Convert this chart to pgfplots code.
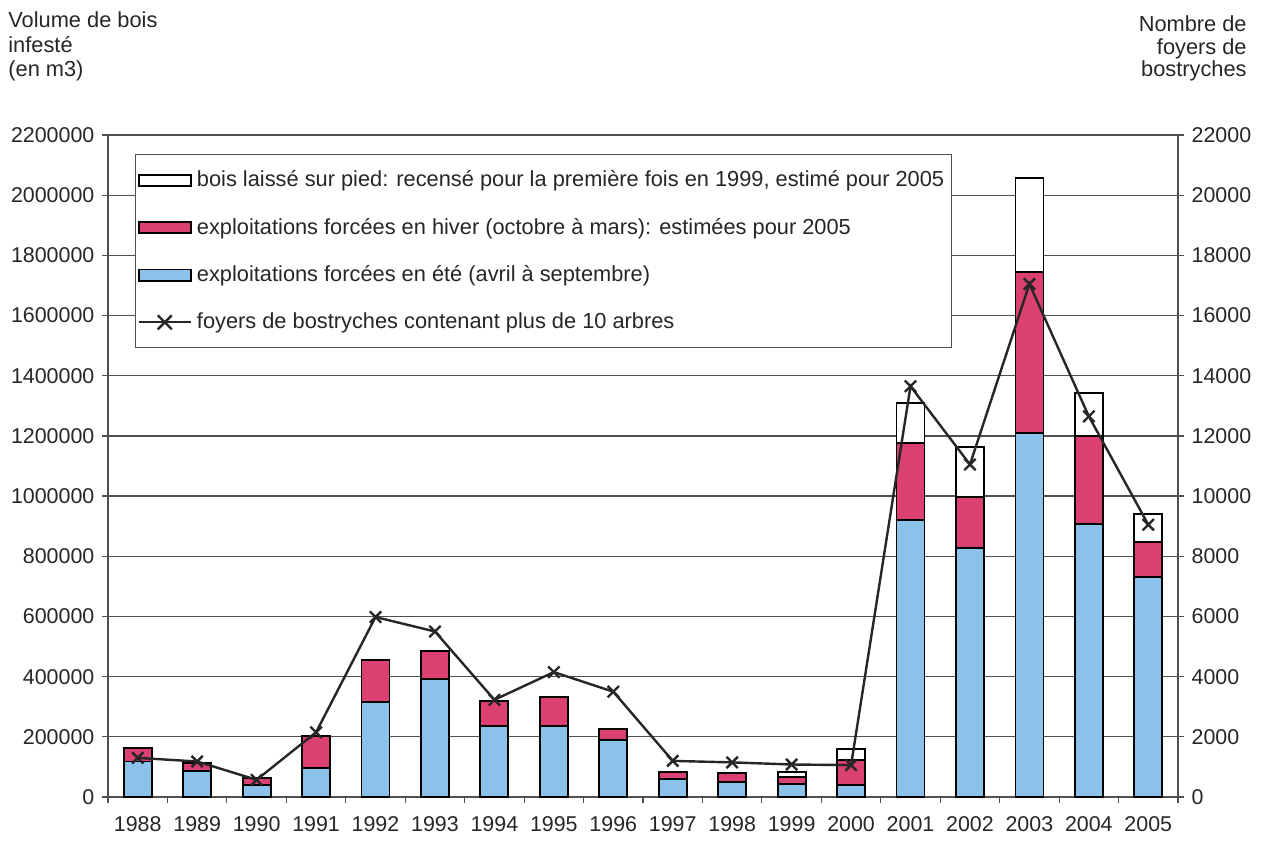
\documentclass[border=0pt]{standalone}
\usepackage{fontspec}
\setmainfont{Liberation Sans}
\usepackage{pgfplots}
\pgfplotsset{compat=1.18}
\definecolor{sumblue}{RGB}{140,194,234}
\definecolor{winpink}{RGB}{218,64,112}
\definecolor{gridc}{RGB}{80,80,80}
\newcommand{\chartfont}{\fontsize{10.9}{13}\selectfont}
\newcommand{\tickfont}{\fontsize{10.7}{13}\selectfont}
\begin{document}
\chartfont
\begin{tikzpicture}
\useasboundingbox (0,0) rectangle (633.5pt,420pt);
\node[anchor=base west, inner sep=0, text=black!85] at (4pt,406pt) {Volume de bois};
\node[anchor=base west, inner sep=0, text=black!85] at (4pt,393.5pt) {infesté};
\node[anchor=base west, inner sep=0, text=black!85] at (4pt,381.5pt) {(en m3)};
\node[anchor=base east, inner sep=0, text=black!85] at (623.5pt,404pt) {Nombre de};
\node[anchor=base east, inner sep=0, text=black!85] at (623.5pt,392.5pt) {foyers de};
\node[anchor=base east, inner sep=0, text=black!85] at (623.5pt,381.5pt) {bostryches};
\begin{axis}[
  at={(54pt,21.5pt)}, anchor=south west,
  width=535pt, height=331pt, scale only axis,
  xmin=-0.5, xmax=17.5, ymin=0, ymax=2200000,
  ybar stacked, bar width=14pt,
  xtick={0,...,17},
  xticklabels={1988,1989,1990,1991,1992,1993,1994,1995,1996,1997,1998,1999,2000,2001,2002,2003,2004,2005},
  minor xtick={-0.5,0.5,...,17.5},
  every major x tick/.style={draw=none},
  every minor x tick/.style={draw=gridc, line width=0.6pt},
  minor tick length=3pt,
  major tick length=3pt,
  tick align=outside,
  xtick pos=bottom, ytick pos=left,
  ytick={0,200000,...,2200000},
  scaled y ticks=false,
  yticklabel style={/pgf/number format/.cd, fixed, precision=0, 1000 sep={}, assume math mode=true},
  ymajorgrids, grid style={gridc, line width=0.6pt},
  axis line style={gridc, line width=0.7pt},
  ytick style={gridc, line width=0.6pt},
  xticklabel style={yshift=-3pt},
  tick label style={font=\tickfont, text=black!85},
]
\addplot[fill=sumblue, draw=black, line width=0.9pt] coordinates {
(0,118000) (1,86000) (2,40000) (3,96000) (4,316000) (5,392000) (6,236000) (7,236000) (8,189000)
(9,60000) (10,50000) (11,43000) (12,40000) (13,920000) (14,827000) (15,1209000) (16,907000) (17,731000)};
\addplot[fill=winpink, draw=black, line width=0.9pt] coordinates {
(0,44000) (1,27000) (2,23000) (3,107000) (4,139000) (5,93000) (6,83000) (7,96000) (8,37000)
(9,23000) (10,30000) (11,23000) (12,83000) (13,256000) (14,170000) (15,536000) (16,293000) (17,116000)};
\addplot[fill=white, draw=black, line width=0.9pt] coordinates {
(0,0) (1,0) (2,0) (3,0) (4,0) (5,0) (6,0) (7,0) (8,0)
(9,0) (10,0) (11,17000) (12,37000) (13,133000) (14,166000) (15,312000) (16,142000) (17,93000)};
\end{axis}
\begin{axis}[
  at={(54pt,21.5pt)}, anchor=south west,
  width=535pt, height=331pt, scale only axis,
  xmin=-0.5, xmax=17.5, ymin=0, ymax=22000,
  axis x line=none,
  axis y line*=right,
  ytick={0,2000,...,22000},
  scaled y ticks=false,
  yticklabel style={/pgf/number format/.cd, fixed, precision=0, 1000 sep={}, assume math mode=true},
  major tick length=3pt, tick align=outside,
  axis line style={gridc, line width=0.7pt},
  ytick style={gridc, line width=0.6pt},
  tick label style={font=\tickfont, text=black!85},
  legend style={at={(0.0252,0.971)}, anchor=north west, draw=gridc, line width=0.6pt, fill=white,
    font=\chartfont, text=black!85,
    row sep=10pt, inner xsep=1pt, inner ysep=6pt,
    nodes={inner xsep=2.5pt},
    /tikz/every even column/.append style={column sep=0pt}},
  legend cell align=left,
]
\addlegendimage{legend image code/.code={\draw[fill=white, draw=black, line width=0.9pt] (0pt,-2.8pt) rectangle (26pt,2.8pt);}}
\addlegendentry{bois laissé sur pied: recensé pour la première fois en 1999, estimé pour 2005}
\addlegendimage{legend image code/.code={\draw[fill=winpink, draw=black, line width=0.9pt] (0pt,-2.8pt) rectangle (26pt,2.8pt);}}
\addlegendentry{exploitations forcées en hiver (octobre à mars): estimées pour 2005}
\addlegendimage{legend image code/.code={\draw[fill=sumblue, draw=black, line width=0.9pt] (0pt,-2.8pt) rectangle (26pt,2.8pt);}}
\addlegendentry{exploitations forcées en été (avril à septembre)}
\addplot[black!85, line width=1.2pt, mark=x, mark size=4pt, mark options={line width=1.2pt},
  legend image code/.code={\draw[black!85, line width=1.2pt] (0pt,0pt) -- (26pt,0pt);
    \draw[black!85, line width=1.2pt] (9.5pt,-3.5pt) -- (16.5pt,3.5pt) (9.5pt,3.5pt) -- (16.5pt,-3.5pt);}]
coordinates {
(0,1300) (1,1180) (2,570) (3,2150) (4,5980) (5,5500) (6,3230) (7,4150) (8,3500)
(9,1200) (10,1150) (11,1080) (12,1060) (13,13650) (14,11050) (15,17050) (16,12650) (17,9050)};
\addlegendentry{foyers de bostryches contenant plus de 10 arbres}
\end{axis}
\end{tikzpicture}
\end{document}
